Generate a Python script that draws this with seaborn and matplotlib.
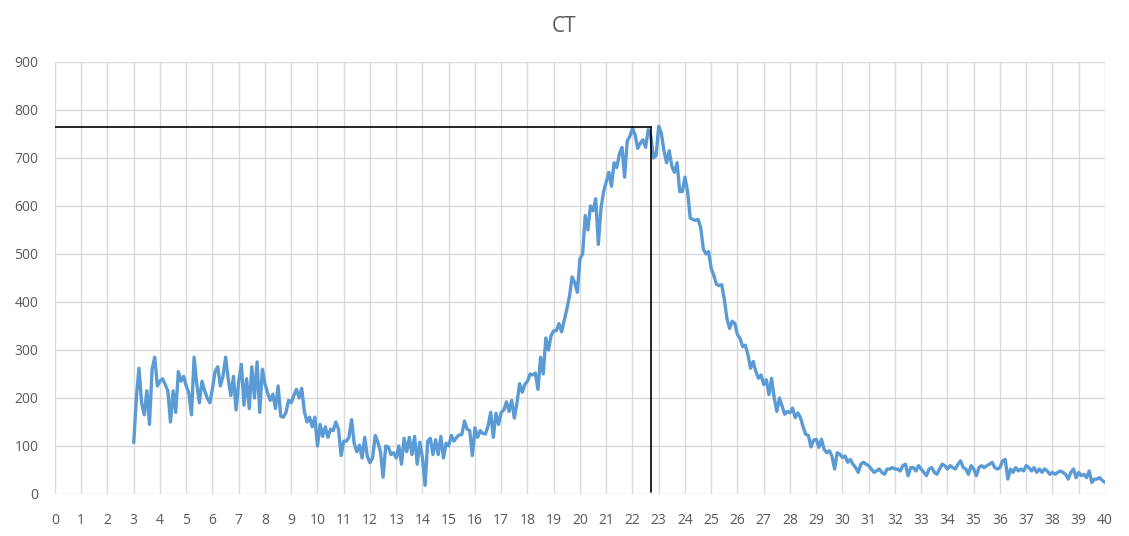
import numpy as np
import pandas as pd
from matplotlib import pyplot as plt
import seaborn as sns

# values, one every 0.1 on x, from 3.0 to 40.0
ct_3_to_10 = [
    107, 200, 262, 190, 165, 215, 145, 260, 285, 225,
    235, 240, 228, 215, 150, 215, 170, 255, 235, 245,
    225, 210, 165, 285, 230, 190, 235, 215, 200, 190,
    220, 255, 265, 225, 245, 285, 240, 205, 245, 175,
    235, 270, 185, 240, 178, 265, 200, 275, 170, 260,
    230, 210, 195, 208, 178, 225, 162, 160, 170, 195,
    190, 205, 218, 200, 220, 172, 150, 160, 140, 160,
]
ct_10_to_17 = [
    100, 145, 120, 140, 118, 135, 132, 150, 135, 80,
    110, 110, 118, 155, 105, 88, 102, 75, 118, 78,
    65, 75, 122, 108, 88, 35, 100, 98, 82, 86,
    75, 100, 62, 116, 88, 118, 82, 120, 62, 108,
    75, 18, 110, 116, 82, 113, 82, 120, 75, 106,
    100, 122, 110, 118, 123, 124, 152, 135, 132, 80,
    138, 118, 132, 126, 125, 142, 170, 118, 168, 145,
]
ct_17_to_23 = [
    170, 175, 192, 172, 195, 158, 190, 230, 212, 228,
    235, 250, 248, 252, 218, 285, 250, 325, 300, 330,
    340, 340, 355, 338, 362, 385, 412, 452, 440, 420,
    490, 500, 580, 550, 600, 590, 615, 520, 595, 630,
    650, 670, 641, 690, 680, 708, 722, 660, 735, 745,
    762, 748, 720, 731, 738, 722, 759, 745, 700, 705,
]
ct_23_to_30 = [
    766, 752, 715, 690, 715, 683, 670, 690, 630, 630,
    660, 630, 575, 572, 570, 572, 555, 510, 500, 505,
    470, 455, 437, 434, 436, 405, 365, 345, 360, 355,
    332, 324, 307, 310, 290, 262, 276, 255, 241, 248,
    228, 238, 207, 241, 200, 172, 200, 183, 166, 172,
    169, 179, 159, 169, 159, 140, 124, 122, 98, 112,
    114, 97, 114, 93, 86, 90, 79, 52, 86, 83,
]
ct_30_to_40 = [
    76, 79, 66, 72, 62, 55, 45, 62, 66, 62,
    59, 52, 45, 48, 52, 45, 41, 52, 52, 55,
    52, 52, 48, 59, 62, 38, 55, 55, 48, 59,
    52, 45, 38, 52, 55, 45, 41, 52, 62, 59,
    52, 59, 55, 52, 62, 69, 55, 52, 41, 59,
    52, 38, 55, 59, 55, 59, 62, 66, 55, 52,
    55, 69, 72, 31, 52, 45, 55, 48, 52, 48,
    59, 55, 48, 55, 45, 52, 45, 52, 48, 41,
    45, 41, 45, 48, 45, 41, 31, 45, 52, 34,
    45, 38, 41, 34, 48, 24, 31, 31, 34, 28,
    24,
]

# peak marker lines (black)
peak_x = 22.7
peak_y = 765

ct = ct_3_to_10 + ct_10_to_17 + ct_17_to_23 + ct_23_to_30 + ct_30_to_40
x_start, x_end = 3.0, 40.0
df = pd.DataFrame({"x": np.linspace(x_start, x_end, len(ct)), "ct": ct})

sns.set_theme(style="whitegrid")
plt.rcParams['font.family'] = ['Open Sans', 'DejaVu Sans']

fig = plt.figure(figsize=(11.29, 5.36), dpi=100)
ax = fig.add_axes([0.0487, 0.0784, 0.93, 0.806])

sns.lineplot(data=df, x="x", y="ct", ax=ax, color="#5B9BD5", linewidth=2.4)

ax.plot([0, peak_x], [peak_y, peak_y], color="black", linewidth=1.2)
ax.plot([peak_x, peak_x], [peak_y, 4], color="black", linewidth=1.2)

ax.set_xlim(0, 40)
ax.set_ylim(0, 900)
ax.set_xticks(range(0, 41))
ax.set_yticks(range(0, 901, 100))
ax.grid(True, color="#D9D9D9", linewidth=1.0)
ax.set_xlabel("")
ax.set_ylabel("")
for s in ax.spines.values():
    s.set_visible(False)
ax.tick_params(axis="both", length=0, labelsize=10, labelcolor="#595959")
ax.tick_params(axis="x", pad=14)
ax.tick_params(axis="y", pad=12)

fig.suptitle("CT", y=0.97, fontsize=15, color="#595959")

plt.savefig("out.png", dpi=100)
